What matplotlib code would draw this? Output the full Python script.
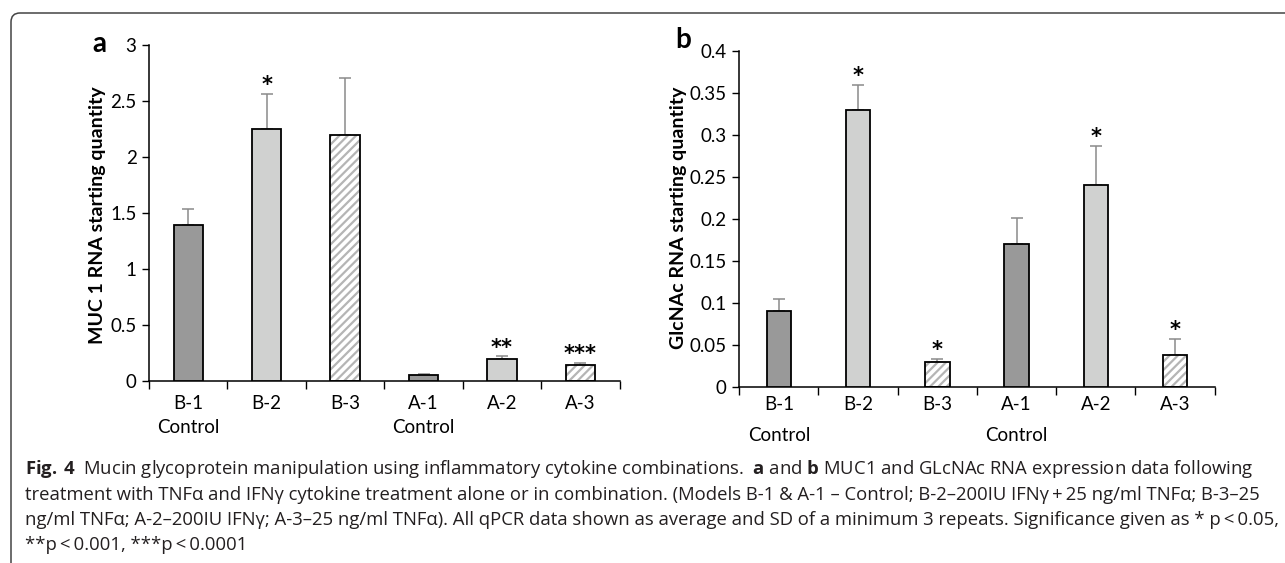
import numpy as np
import matplotlib
matplotlib.use('Agg')
import matplotlib.pyplot as plt
import matplotlib.patches as mpatches
from matplotlib.transforms import IdentityTransform
from matplotlib.ticker import FuncFormatter, FixedLocator

# 数据
categories = ['B-1', 'B-2', 'B-3', 'A-1', 'A-2', 'A-3']
sub_labels = ['Control', '', '', 'Control', '', '']
bar_styles = ['dark', 'light', 'hatch', 'dark', 'light', 'hatch']

muc1_values = [1.39, 2.25, 2.20, 0.05, 0.20, 0.14]
muc1_sd = [0.15, 0.315, 0.505, 0.01, 0.02, 0.025]
muc1_sig = ['', '*', '', '', '**', '***']

glcnac_values = [0.09, 0.329, 0.029, 0.17, 0.24, 0.038]
glcnac_sd = [0.015, 0.03, 0.004, 0.031, 0.047, 0.019]
glcnac_sig = ['', '*', '*', '', '*', '*']

caption_lines = [
    r'$\mathbf{Fig.\,4}$  Mucin glycoprotein manipulation using inflammatory cytokine combinations.  '
    r'$\mathbf{a}$ and $\mathbf{b}$ MUC1 and GLcNAc RNA expression data following',
    'treatment with TNF\u03b1 and IFN\u03b3 cytokine treatment alone or in combination. (Models B-1 & A-1 \u2013 Control; '
    'B-2\u2013200IU IFN\u03b3\u2009+\u200925 ng/ml TNF\u03b1; B-3\u201325',
    'ng/ml TNF\u03b1; A-2\u2013200IU IFN\u03b3; A-3\u201325 ng/ml TNF\u03b1). All qPCR data shown as average and SD of a '
    'minimum 3 repeats. Significance given as * p\u2009<\u20090.05,',
    '**p\u2009<\u20090.001, ***p\u2009<\u20090.0001',
]

W, H = 1285, 563
TICK_FONT = ['Lato', 'DejaVu Sans']
CAP_FONT = ['Open Sans', 'DejaVu Sans']

plt.rcParams['hatch.linewidth'] = 1.6
plt.rcParams['mathtext.fontset'] = 'custom'
plt.rcParams['mathtext.rm'] = 'Open Sans'
plt.rcParams['mathtext.bf'] = 'Open Sans:bold'

COLORS = {'dark': '#999999', 'light': '#d0d1d0'}
HATCH_COLOR = '#b5b5b5'


def px(x, y):
    """像素坐标 -> figure坐标"""
    return x / W, 1 - y / H


def draw_panel(ax, values, sd, sig, ylim, step, width, linespacing, label_pad):
    x = np.arange(len(categories))
    for i, style in enumerate(bar_styles):
        if style == 'hatch':
            ax.bar(x[i], values[i], width=width, color='white', edgecolor=HATCH_COLOR,
                   hatch='////', linewidth=0, zorder=2)
            ax.bar(x[i], values[i], width=width, color='none', edgecolor='black',
                   linewidth=1.3, zorder=3)
        else:
            ax.bar(x[i], values[i], width=width, color=COLORS[style], edgecolor='black',
                   linewidth=1.3, zorder=3)

    # 误差线（只向上）
    ax.errorbar(x, values, yerr=[np.zeros(len(sd)), sd], fmt='none', ecolor='#8a8a8a',
                elinewidth=1.1, capsize=4, capthick=1.1, zorder=1)

    # 显著性标记
    for i, s in enumerate(sig):
        if s:
            ax.annotate(s, (x[i], values[i] + sd[i]), xytext=(0, 2), textcoords='offset points',
                        ha='center', va='baseline', fontsize=15, fontweight='bold',
                        family='DejaVu Sans')

    ax.set_xlim(-0.5, len(categories) - 0.5)
    ax.set_ylim(*ylim)
    ax.set_yticks(np.arange(ylim[0], ylim[1] + step / 2, step))
    ax.yaxis.set_major_formatter(FuncFormatter(lambda v, p: f'{v:g}'))

    ax.set_xticks(x)
    ax.set_xticklabels([c + ('\n' + s if s else '') for c, s in zip(categories, sub_labels)],
                       linespacing=linespacing)
    ax.xaxis.set_minor_locator(FixedLocator(np.arange(-0.5, len(categories), 1.0)))
    ax.tick_params(axis='x', which='major', length=0, pad=label_pad)
    ax.tick_params(axis='x', which='minor', length=6, width=1, direction='out')
    ax.tick_params(axis='y', length=5, width=1, direction='out', pad=4)
    for lab in ax.get_xticklabels() + ax.get_yticklabels():
        lab.set_family(TICK_FONT)
        lab.set_fontsize(13.5)

    for side in ['top', 'right']:
        ax.spines[side].set_visible(False)
    for side in ['left', 'bottom']:
        ax.spines[side].set_linewidth(1.1)


fig = plt.figure(figsize=(W / 100, H / 100), dpi=100)

ax_a = fig.add_axes([149 / W, (H - 381) / H, 470.6 / W, 336 / H])
draw_panel(ax_a, muc1_values, muc1_sd, muc1_sig, (0, 3), 0.5, 0.375, 1.5, 10)

ax_b = fig.add_axes([739.2 / W, (H - 386.7) / H, 475.5 / W, 336 / H])
draw_panel(ax_b, glcnac_values, glcnac_sd, glcnac_sig, (0, 0.4), 0.05, 0.31, 1.95, 7)

# y轴标题和面板字母
fig.text(*px(106, 215), 'MUC 1 RNA starting quantity', rotation=90, ha='right', va='center',
         fontsize=14, fontweight='bold', family=TICK_FONT)
fig.text(*px(687, 218), 'GlcNAc RNA starting quantity', rotation=90, ha='right', va='center',
         fontsize=14, fontweight='bold', family=TICK_FONT)
fig.text(*px(99, 44), 'a', ha='center', va='center', fontsize=20, fontweight='bold', family=TICK_FONT)
fig.text(*px(683, 40), 'b', ha='center', va='center', fontsize=20, fontweight='bold', family=TICK_FONT)

# 图注
for i, line in enumerate(caption_lines):
    fig.text(*px(25, 469 + i * 25.5), line, ha='left', va='center', fontsize=13.3,
             family=CAP_FONT, color='#231f20')

# 圆角边框
frame = mpatches.FancyBboxPatch((11, -20), 1320, H - 13 + 20, boxstyle='round,pad=0,rounding_size=9',
                                transform=IdentityTransform(), facecolor='none',
                                edgecolor='#444444', linewidth=1.1)
fig.add_artist(frame)

fig.savefig('out.png', dpi=100)
